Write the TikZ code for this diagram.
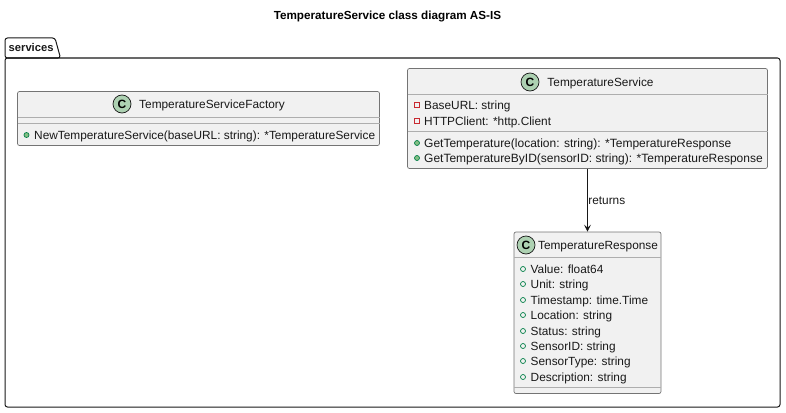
\documentclass[tikz,border=0pt]{standalone}
\usepackage{fontspec}
\setmainfont{Liberation Sans}
\usepackage{xcolor}
\definecolor{box-fill}{HTML}{F1F1F1}
\definecolor{box-line}{HTML}{181818}
\definecolor{class-spot}{HTML}{ADD1B2}
\definecolor{pub-line}{HTML}{038048}
\definecolor{pub-fill}{HTML}{84BE84}
\definecolor{priv-line}{HTML}{C82930}
\usetikzlibrary{arrows.meta}
\tikzset{
  classbox/.style={draw=box-line!60, line width=0.7pt, fill=box-fill, rounded corners=2pt, inner sep=0pt},
  divider/.style={draw=box-line!35, line width=1pt},
  member/.style={anchor=west, inner sep=0pt, yshift=-1pt, text height=8.5pt, text depth=2.5pt, font=\fontsize{11.85}{13}\selectfont, text=black!90},
  longmember/.style={member, font=\fontsize{12}{13}\selectfont},
  header/.style={member, anchor=center},
  spot/.style={circle, draw=box-line, line width=0.7pt, fill=class-spot, minimum size=18pt, inner sep=0pt, font=\fontsize{12}{13}\selectfont\bfseries},
  pubicon/.style={circle, draw=pub-line, fill=pub-fill, line width=0.7pt, minimum size=5pt, inner sep=0pt},
  fieldicon/.style={circle, draw=pub-line, fill=box-fill, line width=0.7pt, minimum size=5pt, inner sep=0pt},
  privicon/.style={rectangle, draw=priv-line, fill=box-fill, line width=0.7pt, minimum size=5pt, inner sep=0pt},
}
\begin{document}
\begin{tikzpicture}[x=1pt, y=-1pt]
    % Diagram: one package holding three class boxes, coordinates in image pixels (x, y down)
    %   package body x=5..780, y=58..407, tab up to y=38
    %   factory box at (198.5,118.5), service box above response box on x=587.5
    \useasboundingbox (0,0) rectangle (786,412);
    \node[font=\fontsize{11.7}{13}\selectfont\bfseries] (title) at (387.5,16.5) {TemperatureService class diagram AS-IS};

    % package outline with tab
    \draw[box-line, line width=1pt, rounded corners=2.5pt] (5,58) -- (5,38) -- (55,38) -- (60.5,58) -- cycle;
    \draw[box-line, line width=1pt, rounded corners=2.5pt] (5,58) rectangle (780,407);
    \node[member, font=\fontsize{11.2}{13}\selectfont\bfseries] (pkglabel) at (8.5,47.5) {services};

    % factory box
    \node[classbox, minimum width=362pt, minimum height=54pt] (factory) at (198.5,118.5) {};
    \draw[divider] (17.5,117.5) -- (379.5,117.5);
    \draw[divider] (17.5,123.5) -- (379.5,123.5);
    \node[spot] (factoryspot) at (122,104) {C};
    \node[header] (factoryname) at (212,104.5) {TemperatureServiceFactory};
    \node[pubicon] (factoryicon) at (26.5,135) {};
    \node[member] (factoryrow) at (34,135) {NewTemperatureService(baseURL: string): *TemperatureService};

    % service box
    \node[classbox, minimum width=360pt, minimum height=100pt] (service) at (587.5,118.5) {};
    \draw[divider] (407.5,94) -- (767.5,94);
    \draw[divider] (407.5,131) -- (767.5,131);
    \node[spot] (servicespot) at (530,82) {C};
    \node[header] (servicename) at (600.5,82) {TemperatureService};
    \foreach \name/\y/\row in {a/105/{BaseURL: string}, b/121/{HTTPClient: *http.Client}} {
      \node[privicon] (serviceicon\name) at (417,\y) {};
      \node[member] (servicerow\name) at (424,\y) {\row};
    }
    \foreach \name/\y/\row in {c/143/{GetTemperature(location: string): *TemperatureResponse},
                               d/158/{GetTemperatureByID(sensorID: string): *TemperatureResponse}} {
      \node[pubicon] (serviceicon\name) at (417,\y) {};
      \node[longmember] (servicerow\name) at (424,\y) {\row};
    }

    % response box
    \node[classbox, minimum width=147pt, minimum height=161.5pt] (response) at (587.5,312.75) {};
    \draw[divider] (514,257.5) -- (661,257.5);
    \draw[divider] (514,387) -- (661,387);
    \node[spot] (responsespot) at (526,245) {C};
    \node[header] (responsename) at (598,245) {TemperatureResponse};
    \foreach \name/\y/\row in {a/269/{Value: float64}, b/284/{Unit: string}, c/300/{Timestamp: time.Time},
                               d/315/{Location: string}, e/331/{Status: string}, f/346/{SensorID: string},
                               g/361/{SensorType: string}, h/377/{Description: string}} {
      \node[fieldicon] (responseicon\name) at (523,\y) {};
      \node[member] (responserow\name) at (530.5,\y) {\row};
    }

    % link between service and response
    \draw[-{Stealth[length=7pt, width=7pt, inset=3pt]}, box-line, line width=0.7pt] (service) -- (response)
      node[member, pos=0.5, anchor=west, xshift=0.5pt] (returnslabel) {returns};
\end{tikzpicture}
\end{document}
